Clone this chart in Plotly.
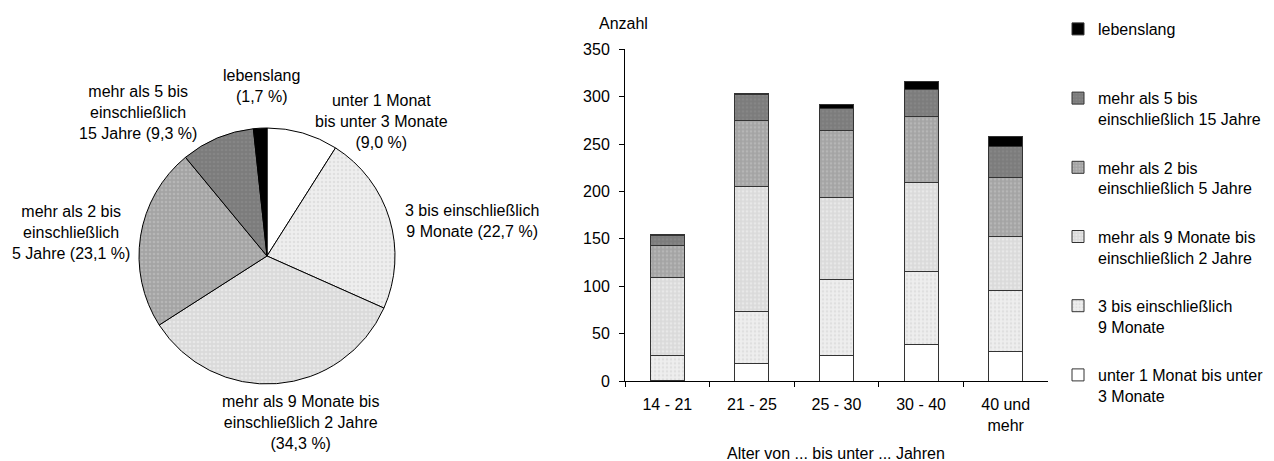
import plotly.graph_objects as go

W, H = 1274, 461

# ---- data ----
pie_labels = ["unter 1 Monat bis unter 3 Monate", "3 bis einschließlich 9 Monate",
              "mehr als 9 Monate bis einschließlich 2 Jahre", "mehr als 2 bis einschließlich 5 Jahre",
              "mehr als 5 bis einschließlich 15 Jahre", "lebenslang"]
pie_text = ["unter 1 Monat<br>bis unter 3 Monate<br>", "3 bis einschließlich<br>9 Monate ",
            "mehr als 9 Monate bis<br>einschließlich 2 Jahre<br>", "mehr als 2 bis<br>einschließlich<br>5 Jahre ",
            "mehr als 5 bis<br>einschließlich<br>15 Jahre ", "lebenslang<br>"]
pie_pct = [9.0, 22.7, 34.3, 23.1, 9.3, 1.7]

categories = ["14 - 21", "21 - 25", "25 - 30", "30 - 40", "40 und<br>mehr"]
unter_1_3m = [1, 18, 27, 39, 31]
m3_9 = [26, 55, 80, 77, 64]
m9_2j = [82, 132, 87, 94, 57]
j2_5 = [34, 70, 70, 69, 63]
j5_15 = [11, 27, 24, 29, 32]
lebenslang = [1, 1, 4, 8, 11]

legend_names = ["unter 1 Monat bis unter<br>3 Monate", "3 bis einschließlich<br>9 Monate",
                "mehr als 9 Monate bis<br>einschließlich 2 Jahre", "mehr als 2 bis<br>einschließlich 5 Jahre",
                "mehr als 5 bis<br>einschließlich 15 Jahre", "lebenslang<br> "]

# ---- styles ----
FONT = "Liberation Sans, Arial, sans-serif"
FS = 16
bg = ["#ffffff", "#eeeeee", "#dadada", "#a4a4a4", "#7c7c7c", "#000000"]
fg = ["#ffffff", "#d0d0d0", "#f6f6f6", "#c8c8c8", "#909090", "#000000"]


def px(x):
    return x / W


def py(y):
    return 1 - y / H


fig = go.Figure()

fig.add_trace(go.Pie(
    labels=pie_labels, values=pie_pct, sort=False, direction="clockwise", rotation=0,
    textinfo="none", showlegend=False, hoverinfo="label+percent", automargin=False,
    marker=dict(colors=bg, line=dict(color="#000000", width=1),
                pattern=dict(shape=[""] + ["."] * 4 + [""], fgcolor=fg, size=4, solidity=0.35,
                             fillmode="overlay")),
    domain=dict(x=[px(139), px(395)], y=[py(384), py(128)]),
))

series = [unter_1_3m, m3_9, m9_2j, j2_5, j5_15, lebenslang]
for i, vals in enumerate(series):
    fig.add_trace(go.Bar(
        x=categories, y=vals, name=legend_names[i], width=0.4,
        legendgroup=f"g{i}", legendrank=100 - i,
        marker=dict(color=bg[i], line=dict(color="#333333", width=1),
                    pattern=dict(shape="." if 0 < i < 5 else "", fgcolor=fg[i], size=4,
                                 solidity=0.35, fillmode="overlay")),
        xaxis="x", yaxis="y",
    ))

# pie labels
label_pos = [(381, 121), (472, 221), (300, 422), (71, 232), (138, 113), (261, 86)]
for t, p, (x, y) in zip(pie_text, pie_pct, label_pos):
    fig.add_annotation(x=px(x), y=py(y), xref="paper", yref="paper",
                       text=t + "(" + f"{p:.1f}".replace(".", ",") + " %)",
                       showarrow=False, align="center", xanchor="center", yanchor="middle",
                       font=dict(family=FONT, size=FS, color="#000000"))

fig.add_annotation(x=px(623), y=py(23), xref="paper", yref="paper", text="Anzahl",
                   showarrow=False, xanchor="center", yanchor="middle",
                   font=dict(family=FONT, size=FS, color="#000000"))
fig.add_annotation(x=px(836), y=py(453), xref="paper", yref="paper",
                   text="Alter von ... bis unter ... Jahren",
                   showarrow=False, xanchor="center", yanchor="middle",
                   font=dict(family=FONT, size=FS, color="#000000"))

fig.update_layout(
    width=W, height=H, margin=dict(l=0, r=0, t=0, b=0, autoexpand=False),
    paper_bgcolor="white", plot_bgcolor="white",
    barmode="stack", bargap=0.6,
    font=dict(family=FONT, size=FS, color="#000000"),
    xaxis=dict(domain=[px(625), px(1048)], showline=True, linecolor="#000000", linewidth=1,
               ticks="outside", ticklen=5, tickcolor="#000000", tickson="boundaries",
               ticklabelstandoff=9,
               showgrid=False, zeroline=False, tickfont=dict(size=FS), automargin=False),
    yaxis=dict(domain=[py(381), py(49.4)], range=[0, 350], dtick=50, showline=True,
               linecolor="#000000", linewidth=1, ticks="outside", ticklen=5, tickcolor="#000000",
               ticklabelstandoff=6,
               showgrid=False, zeroline=False, tickfont=dict(size=FS), automargin=False),
    legend=dict(x=px(1058), y=py(12), xanchor="left", yanchor="top",
                traceorder="grouped", tracegroupgap=24.6, valign="top",
                font=dict(family=FONT, size=FS), itemclick=False),
)

fig.write_html("out.html", config={"displayModeBar": False},
               post_script="document.body.style.margin='0';")
